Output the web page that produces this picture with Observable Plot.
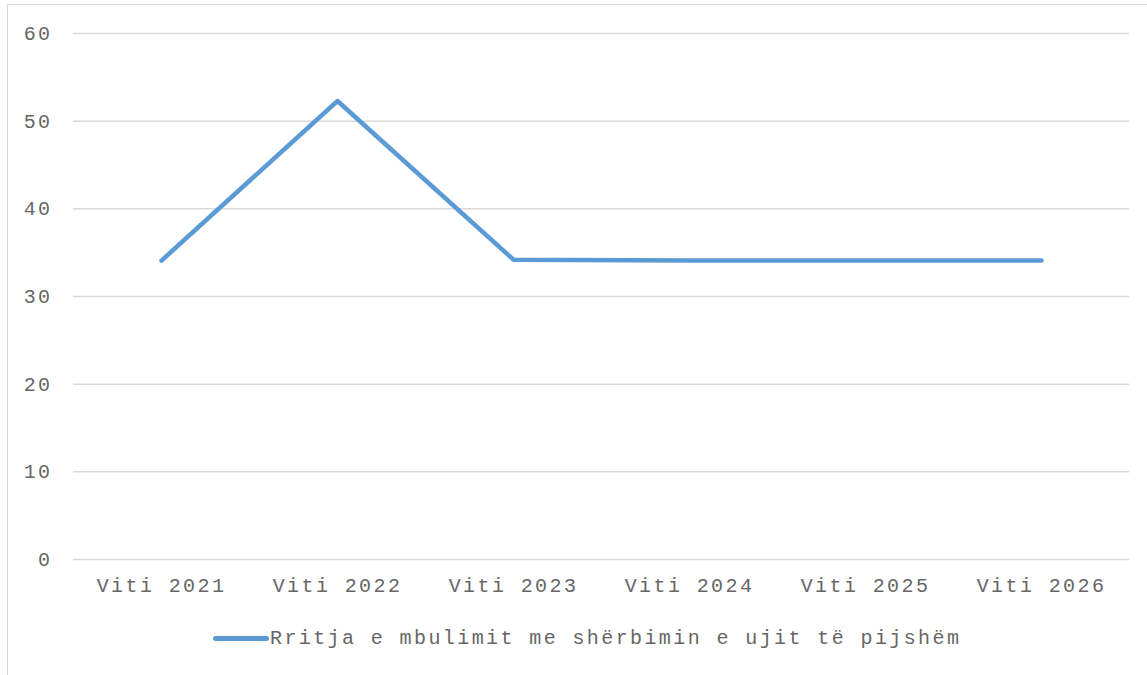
<!DOCTYPE html>
<html><head><meta charset="utf-8">
<script src="https://cdn.jsdelivr.net/npm/d3@7"></script>
<script src="https://cdn.jsdelivr.net/npm/@observablehq/plot@0.6"></script>
<style>
body{margin:0;background:#fff;}
#frame{position:absolute;left:7px;top:4px;width:1160px;height:700px;border:1.5px solid #d9d9d9;box-sizing:border-box;}
#chart{position:absolute;left:0;top:0;}
#legend{position:absolute;left:213px;top:627px;display:flex;align-items:center;font-family:"Liberation Mono",monospace;font-size:20px;letter-spacing:2.4px;color:#666;white-space:nowrap;}
#legend .sw{display:inline-block;width:56px;height:5px;border-radius:3px;background:#5b9bd5;margin-right:1px;}
</style></head>
<body>
<div id="frame"></div>
<div id="chart"></div>
<div id="legend"><span class="sw"></span><span id="lt"></span></div>
<script>
const years = ["Viti 2021","Viti 2022","Viti 2023","Viti 2024","Viti 2025","Viti 2026"];
const values = [34.1, 52.3, 34.2, 34.1, 34.1, 34.1];
const seriesName = "Rritja e mbulimit me shërbimin e ujit të pijshëm";
const yTicks = [0,10,20,30,40,50,60];

const data = years.map((y,i)=>({year:y, value:values[i]}));
document.getElementById("lt").textContent = seriesName;

const chart = Plot.plot({
  width:1147, height:620,
  marginTop:33, marginLeft:73, marginRight:18, marginBottom:61,
  style:{fontFamily:"Liberation Mono, monospace", fontSize:"20px", color:"#666", background:"transparent", letterSpacing:"2.4px"},
  x:{type:"point", domain:years, padding:0.5, label:null, tickSize:0, tickPadding:18},
  y:{domain:[0,60], ticks:yTicks, label:null, tickSize:0, tickPadding:21},
  marks:[
    Plot.ruleY(yTicks,{stroke:"#d9d9d9", strokeWidth:1.5}),
    Plot.line(data,{x:"year", y:"value", stroke:"#5b9bd5", strokeWidth:4.5, strokeLinecap:"round", strokeLinejoin:"round"})
  ]
});
document.getElementById("chart").appendChild(chart);
</script>
</body></html>
